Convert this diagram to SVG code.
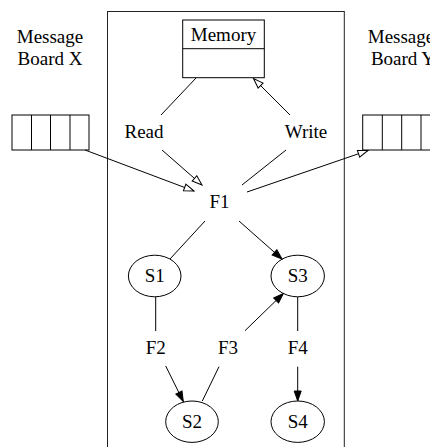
<svg xmlns="http://www.w3.org/2000/svg" width="430" height="447" viewBox="0 0 430 447">
  <style>
    text { font-family: "Liberation Serif", "Times New Roman", serif; font-size: 19px; fill: #000; }
    .c { text-anchor: middle; }
    .box { fill: #fff; stroke: #000; stroke-width: 1; }
    .edge { fill: none; stroke: #000; stroke-width: 1; }
    .open { marker-end: url(#openHead); }
    .solid { marker-end: url(#solidHead); }
  </style>
  <defs>
    <marker id="openHead" markerUnits="userSpaceOnUse" markerWidth="12" markerHeight="9" refX="10" refY="3.5" orient="auto" viewBox="-1 -1 12 9">
      <path d="M0,0 L10,3.5 L0,7 z" fill="#fff" stroke="#000" stroke-width="1"/>
    </marker>
    <marker id="solidHead" markerUnits="userSpaceOnUse" markerWidth="12" markerHeight="9" refX="10" refY="3.5" orient="auto" viewBox="-1 -1 12 9">
      <path d="M0,0 L10,3.5 L0,7 z" fill="#000" stroke="#000" stroke-width="1"/>
    </marker>
  </defs>

  <rect width="430" height="447" fill="#fff"/>

  <!-- process boundary -->
  <g id="process">
    <rect x="107.5" y="11.5" width="236.8" height="460" fill="none" stroke="#222" stroke-width="1"/>
  </g>

  <g id="boardX">
    <text x="50" y="43" class="c">Message</text>
    <text x="50" y="65" class="c">Board X</text>
    <rect class="box" x="12" y="115" width="77" height="35"/>
    <line class="edge" x1="31.5" y1="115" x2="31.5" y2="150"/>
    <line class="edge" x1="50.5" y1="115" x2="50.5" y2="150"/>
    <line class="edge" x1="70" y1="115" x2="70" y2="150"/>
  </g>

  <g id="boardY">
    <text x="401" y="43" class="c">Message</text>
    <text x="403" y="65" class="c">Board Y</text>
    <rect class="box" x="362.7" y="115" width="78" height="35"/>
    <line class="edge" x1="382.3" y1="115" x2="382.3" y2="150"/>
    <line class="edge" x1="401.7" y1="115" x2="401.7" y2="150"/>
    <line class="edge" x1="421" y1="115" x2="421" y2="150"/>
  </g>

  <g id="memory">
    <rect class="box" x="182.7" y="20" width="81.6" height="57.7"/>
    <line class="edge" x1="182.7" y1="48.7" x2="264.3" y2="48.7"/>
    <text x="223.5" y="41" class="c">Memory</text>
  </g>

  <g id="read"><text x="144" y="138" class="c">Read</text></g>
  <g id="write"><text x="306" y="138" class="c">Write</text></g>
  <g id="F1"><text x="219.5" y="207.5" class="c">F1</text></g>
  <g id="F2"><text x="155.7" y="354" class="c">F2</text></g>
  <g id="F3"><text x="228" y="354" class="c">F3</text></g>
  <g id="F4"><text x="297.7" y="354" class="c">F4</text></g>

  <g id="S1">
    <ellipse class="box" cx="154.7" cy="276" rx="26.3" ry="20.8"/>
    <text x="154.7" y="282" class="c">S1</text>
  </g>
  <g id="S2">
    <ellipse class="box" cx="192" cy="421.7" rx="26.3" ry="20.7"/>
    <text x="192" y="427.5" class="c">S2</text>
  </g>
  <g id="S3">
    <ellipse class="box" cx="297.7" cy="276" rx="26.7" ry="20.8"/>
    <text x="297.7" y="282" class="c">S3</text>
  </g>
  <g id="S4">
    <ellipse class="box" cx="297.7" cy="421.7" rx="26.7" ry="20.7"/>
    <text x="297.7" y="427.5" class="c">S4</text>
  </g>

  <!-- connectors -->
  <g id="connectors">
    <line class="edge open" x1="85" y1="150" x2="194" y2="191"/>
    <line class="edge" x1="196" y1="78" x2="161" y2="115"/>
    <line class="edge open" x1="162" y1="150" x2="202" y2="185"/>
    <line class="edge open" x1="290" y1="115" x2="253.5" y2="78.5"/>
    <line class="edge" x1="242" y1="185" x2="286" y2="150"/>
    <line class="edge open" x1="247" y1="192" x2="368" y2="150.5"/>
    <line class="edge" x1="205" y1="221" x2="170" y2="259"/>
    <line class="edge solid" x1="239" y1="221" x2="282" y2="259"/>
    <line class="edge" x1="155.7" y1="297" x2="155.7" y2="331"/>
    <line class="edge solid" x1="165.7" y1="366" x2="183.3" y2="401.5"/>
    <line class="edge" x1="202.3" y1="401" x2="219" y2="366.7"/>
    <line class="edge solid" x1="245" y1="330.7" x2="283.3" y2="293.5"/>
    <line class="edge" x1="297.7" y1="297" x2="297.7" y2="331"/>
    <line class="edge solid" x1="297.7" y1="366.7" x2="297.7" y2="401"/>
  </g>
</svg>
